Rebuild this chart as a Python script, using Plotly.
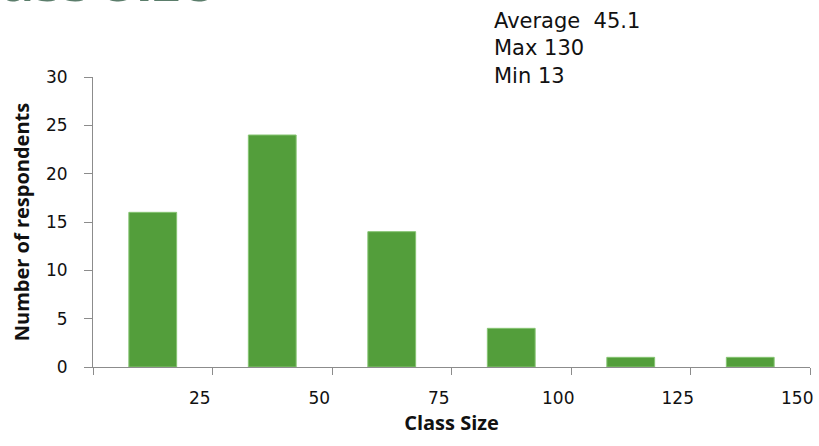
import plotly.graph_objects as go

# Class size bins (upper bound of each 25-wide bin) and respondent counts
size_bins = ["25", "50", "75", "100", "125", "150"]
respondents = [16, 24, 14, 4, 1, 1]

# Summary statistics shown in the top-right note
stat_average = "45.1"
stat_max = "130"
stat_min = "13"

bar_color = "#539E3B"
axis_color = "#8C8C8C"
tick_font = dict(family="DejaVu Sans", size=17, color="#111111")
title_font = dict(family="Open Sans", size=20, color="#111111")

fig = go.Figure()
fig.add_trace(
    go.Bar(
        x=size_bins,
        y=respondents,
        width=0.4,
        marker=dict(color=bar_color, line=dict(color="#86C473", width=1)),
        showlegend=False,
    )
)

fig.update_layout(
    width=819,
    height=446,
    margin=dict(l=93, r=6, t=77, b=79),
    paper_bgcolor="white",
    plot_bgcolor="white",
    bargap=0.6,
    xaxis=dict(
        type="category",
        tickson="boundaries",
        ticks="outside",
        ticklen=7,
        tickcolor=axis_color,
        showline=True,
        linecolor=axis_color,
        linewidth=1,
        showgrid=False,
        tickfont=tick_font,
        ticklabelshift=47,
        ticklabelstandoff=16,
        title=dict(text="<b>Class Size</b>", font=title_font, standoff=8),
    ),
    yaxis=dict(
        range=[0, 30],
        tickvals=[0, 5, 10, 15, 20, 25, 30],
        ticks="outside",
        ticklen=8,
        tickcolor=axis_color,
        showline=True,
        linecolor=axis_color,
        linewidth=1,
        showgrid=False,
        zeroline=False,
        tickfont=tick_font,
        ticklabelstandoff=13,
        title=dict(text="<b>Number of respondents</b>", font=title_font, standoff=10),
    ),
    annotations=[
        dict(
            text=f"Average  {stat_average}<br>Max {stat_max}<br>Min {stat_min}",
            xref="paper", yref="paper",
            x=(494 - 93) / 720, y=1 + (77 - 7) / 290,
            xanchor="left", yanchor="top",
            align="left",
            showarrow=False,
            font=dict(family="DejaVu Sans", size=21, color="#111111"),
        ),
        dict(
            text="<b>Class Size</b>",
            xref="paper", yref="paper",
            x=(-55 - 93) / 720, y=1 + 58 / 290,
            xanchor="left", yanchor="bottom",
            showarrow=False,
            font=dict(family="Open Sans", size=56, color="#5B7D6B"),
        ),
    ],
)

fig.write_html("out.html")
